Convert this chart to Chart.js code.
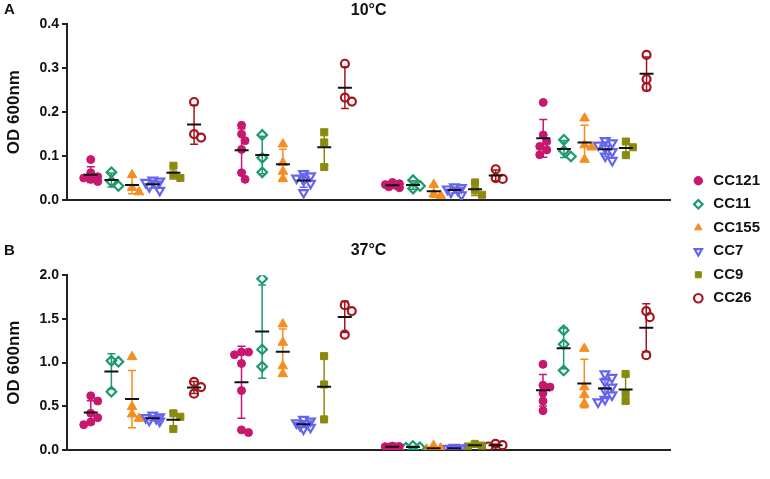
<!DOCTYPE html>
<html>
<head>
<meta charset="utf-8">
<script src="https://cdn.jsdelivr.net/npm/chart.js@4"></script>
<style>
  body { margin: 0; background: #fff; }
  #wrap { position: relative; width: 770px; height: 479px; }
  #wrap canvas { position: absolute; left: 0; top: 0; }
</style>
</head>
<body>
<div id="wrap">
  <canvas id="chart10" width="770" height="479"></canvas>
  <canvas id="chart37" width="770" height="479"></canvas>
</div>
<script>
// media on the x axis, strains as groups inside each medium
const categories = ['BHI', 'BHI + NaCl', 'dBHI', 'dBHI + NaCl'];
const strains = ['CC121', 'CC11', 'CC155', 'CC7', 'CC9', 'CC26'];
const yTicks10 = [0, 0.1, 0.2, 0.3, 0.4];
const yTicks37 = [0, 0.5, 1.0, 1.5, 2.0];

// 10°C, one list per medium
const cc121_10 = [[0.092, 0.062, 0.053, 0.05, 0.047, 0.042], [0.17, 0.15, 0.135, 0.115, 0.062, 0.047], [0.04, 0.037, 0.035, 0.033, 0.03, 0.028], [0.222, 0.148, 0.133, 0.122, 0.114, 0.103]];
const cc11_10 = [[0.063, 0.042, 0.032], [0.148, 0.096, 0.063], [0.045, 0.032, 0.026], [0.137, 0.112, 0.099]];
const cc155_10 = [[0.057, 0.028, 0.018], [0.127, 0.085, 0.065, 0.048], [0.035, 0.014, 0.01], [0.186, 0.125, 0.12, 0.092]];
const cc7_10 = [[0.045, 0.043, 0.04, 0.036, 0.03, 0.022], [0.06, 0.055, 0.05, 0.045, 0.038, 0.017], [0.03, 0.028, 0.025, 0.022, 0.018, 0.012], [0.135, 0.13, 0.125, 0.118, 0.11, 0.1, 0.09]];
const cc9_10 = [[0.078, 0.058, 0.05], [0.154, 0.131, 0.075], [0.04, 0.022, 0.012], [0.133, 0.12, 0.102]];
const cc26_10 = [[0.223, 0.15, 0.142], [0.31, 0.233, 0.224], [0.07, 0.05, 0.048], [0.33, 0.275, 0.257]];

// 37°C
const cc121_37 = [[0.62, 0.56, 0.42, 0.37, 0.32, 0.29], [1.12, 1.09, 1.12, 0.99, 0.68, 0.2, 0.23], [0.045, 0.04, 0.038, 0.035, 0.032, 0.03], [0.98, 0.74, 0.72, 0.65, 0.56, 0.45]];
const cc11_37 = [[1.02, 1.01, 0.667], [1.96, 1.15, 0.955], [0.045, 0.03, 0.025], [1.37, 1.21, 0.91]];
const cc155_37 = [[1.066, 0.495, 0.41, 0.36], [1.44, 1.23, 0.96, 0.87], [0.05, 0.02, 0.01, 0.005], [1.16, 0.72, 0.63, 0.53]];
const cc7_37 = [[0.4, 0.38, 0.37, 0.36, 0.34, 0.33], [0.35, 0.33, 0.31, 0.3, 0.28, 0.26, 0.24], [0.03, 0.025, 0.02, 0.018, 0.015, 0.01], [0.87, 0.83, 0.78, 0.72, 0.68, 0.63, 0.58, 0.55]];
const cc9_37 = [[0.42, 0.38, 0.24], [1.074, 0.75, 0.35], [0.07, 0.05, 0.04], [0.87, 0.65, 0.56]];
const cc26_37 = [[0.78, 0.72, 0.645], [1.657, 1.59, 1.32], [0.07, 0.055, 0.04], [1.59, 1.52, 1.085]];

const sets10 = [cc121_10, cc11_10, cc155_10, cc7_10, cc9_10, cc26_10];
const sets37 = [cc121_37, cc11_37, cc155_37, cc7_37, cc9_37, cc26_37];

const colors = ['#c8176f', '#1b9a6e', '#f58d1f', '#6464ef', '#8a8a0e', '#a5161c'];
const markers = [
  {style: 'circle', radius: 4, hollow: false, rotation: 0},
  {style: 'rectRot', radius: 4.8, hollow: true, rotation: 0},
  {style: 'triangle', radius: 5.5, hollow: false, rotation: 0},
  {style: 'triangle', radius: 5, hollow: true, rotation: 180},
  {style: 'rect', radius: 5, hollow: false, rotation: 0},
  {style: 'circle', radius: 4, hollow: true, rotation: 0}
];

Chart.defaults.font.family = '"Liberation Sans", Arial, sans-serif';
Chart.defaults.font.weight = 'bold';
Chart.defaults.color = '#111';

const GROUP_STEP = 0.137;
function groupX(c, g) { return c + (g - (strains.length - 1) / 2) * GROUP_STEP; }

function mean(a) { return a.reduce((s, v) => s + v, 0) / a.length; }
function sd(a) {
  const m = mean(a);
  return Math.sqrt(a.reduce((s, v) => s + (v - m) * (v - m), 0) / (a.length - 1));
}

function makeDatasets(sets) {
  return strains.map((name, g) => {
    const m = markers[g];
    const fill = m.hollow ? 'rgba(0,0,0,0)' : colors[g];
    return {
      label: name,
      data: sets[g].flatMap((vals, c) => vals.map(v => ({x: groupX(c, g), y: v}))),
      pointStyle: m.style,
      pointRotation: m.rotation,
      pointRadius: m.radius,
      pointHoverRadius: m.radius,
      pointBackgroundColor: fill,
      pointBorderColor: colors[g],
      pointBorderWidth: m.hollow ? 2.2 : 1,
      backgroundColor: fill,
      borderColor: colors[g],
      borderWidth: m.hollow ? 2.2 : 1
    };
  });
}

// mean +/- SD, coloured bar behind the points, black mean line on top
function statsPlugin(sets) {
  const each = (chart, fn) => {
    const xs = chart.scales.x, ys = chart.scales.y, ctx = chart.ctx, a = chart.chartArea;
    ctx.save();
    ctx.beginPath();
    ctx.rect(a.left, a.top - 10, a.right - a.left, a.bottom - a.top + 10);
    ctx.clip();
    sets.forEach((groupSets, g) => groupSets.forEach((vals, c) => {
      const m = mean(vals), s = sd(vals);
      fn(ctx, g, xs.getPixelForValue(groupX(c, g)), ys.getPixelForValue(m),
         ys.getPixelForValue(m + s), ys.getPixelForValue(Math.max(m - s, ys.min)));
    }));
    ctx.restore();
  };
  return {
    id: 'stats',
    beforeDatasetsDraw(chart) {
      each(chart, (ctx, g, x, ym, yTop, yBot) => {
        ctx.strokeStyle = colors[g];
        ctx.lineWidth = 1.5;
        ctx.beginPath();
        ctx.moveTo(x, yTop); ctx.lineTo(x, yBot);
        ctx.moveTo(x - 4, yTop); ctx.lineTo(x + 4, yTop);
        ctx.moveTo(x - 4, yBot); ctx.lineTo(x + 4, yBot);
        ctx.stroke();
      });
    },
    afterDatasetsDraw(chart) {
      each(chart, (ctx, g, x, ym) => {
        ctx.strokeStyle = '#111';
        ctx.lineWidth = 2;
        ctx.beginPath();
        ctx.moveTo(x - 7, ym); ctx.lineTo(x + 7, ym);
        ctx.stroke();
      });
    }
  };
}

const panelLetter = {
  id: 'panelLetter',
  afterDraw(chart, args, opts) {
    const ctx = chart.ctx;
    ctx.save();
    ctx.font = 'bold 15px "Liberation Sans", Arial, sans-serif';
    ctx.fillStyle = '#111';
    ctx.textBaseline = 'middle';
    ctx.fillText(opts.text, 4, opts.y);
    ctx.restore();
  }
};

// spread overlapping points sideways, like a dot plot
function spreadPoints(chart, sets) {
  const xs = chart.scales.x, ys = chart.scales.y;
  const pxPerUnit = xs.getPixelForValue(1) - xs.getPixelForValue(0);
  const steps = [0, 3.5, -3.5, 7, -7];
  chart.data.datasets.forEach((ds, g) => {
    ds.data = sets[g].flatMap((vals, c) => {
      const placed = [], out = [];
      const order = vals.map((v, i) => i).sort((a, b) => vals[b] - vals[a]);
      order.forEach(i => {
        const py = ys.getPixelForValue(vals[i]);
        let best = 0, bestGap = -1;
        for (const dx of steps) {
          const gap = placed.reduce((m, p) => Math.min(m, Math.hypot(p.dx - dx, p.py - py)), Infinity);
          if (gap >= 7) { best = dx; break; }
          if (gap > bestGap) { best = dx; bestGap = gap; }
        }
        placed.push({dx: best, py});
        out.push({x: groupX(c, g) + best / pxPerUnit, y: vals[i]});
      });
      return out;
    });
  });
  chart.update('none');
}

function buildChart(id, sets, yTicks, cfg) {
  const chart = new Chart(document.getElementById(id), {
    type: 'scatter',
    data: { datasets: makeDatasets(sets) },
    options: {
      responsive: false,
      animation: false,
      events: [],
      layout: { padding: { right: cfg.padRight } },
      plugins: {
        title: {
          display: true, text: cfg.title, fullSize: false,
          font: { size: 16, weight: 'bold' }, color: '#111', padding: cfg.titlePad
        },
        legend: cfg.legend,
        tooltip: { enabled: false },
        panelLetter: { text: cfg.letter, y: cfg.letterY }
      },
      scales: Object.assign({
        x: {
          type: 'linear', min: -0.5, max: categories.length - 0.5,
          grid: { display: false },
          border: { display: true, color: '#222', width: 2 },
          ticks: {
            display: cfg.showCats, stepSize: 1, includeBounds: false, padding: 10,
            maxRotation: 0, font: { size: 15, weight: 'bold' }, color: '#111',
            callback: v => {
              const i = Math.round(v);
              return Math.abs(v - i) < 1e-6 && categories[i] ? categories[i] : '';
            }
          },
          afterFit: s => { s.height = cfg.xHeight; }
        },
        y: {
          min: yTicks[0], max: yTicks[yTicks.length - 1],
          ticks: {
            stepSize: yTicks[1] - yTicks[0], padding: 3,
            font: { size: 14, weight: 'bold' }, color: '#111',
            callback: v => v.toFixed(1)
          },
          grid: { display: true, drawOnChartArea: false, drawTicks: true, tickLength: 5, color: '#222', lineWidth: 2 },
          border: { display: true, color: '#222', width: 2 },
          title: { display: true, text: 'OD 600nm', font: { size: 17, weight: 'bold' }, color: '#111', padding: { top: 4, bottom: 4 } },
          afterFit: s => { s.width = 67; }
        }
      }, cfg.extraScales || {})
    },
    plugins: [statsPlugin(sets), panelLetter]
  });
  spreadPoints(chart, sets);
  return chart;
}

buildChart('chart10', sets10, yTicks10, {
  title: '10°C', letter: 'A', letterY: 10,
  titlePad: { top: 1, bottom: 4 },
  xHeight: 279, showCats: false, padRight: 0,
  legend: {
    display: true, position: 'right',
    labels: { usePointStyle: true, boxHeight: 6, padding: 8.5, font: { size: 15, weight: 'bold' }, color: '#111' }
  },
  extraScales: {
    gap: {
      type: 'linear', position: 'right', display: true,
      grid: { display: false }, ticks: { display: false }, border: { display: false },
      afterFit: s => { s.width = 12; }
    }
  }
});

buildChart('chart37', sets37, yTicks37, {
  title: '37°C', letter: 'B', letterY: 251,
  titlePad: { top: 241, bottom: 15 },
  xHeight: 29, showCats: true, padRight: 100,
  legend: { display: false }
});
</script>
</body>
</html>
